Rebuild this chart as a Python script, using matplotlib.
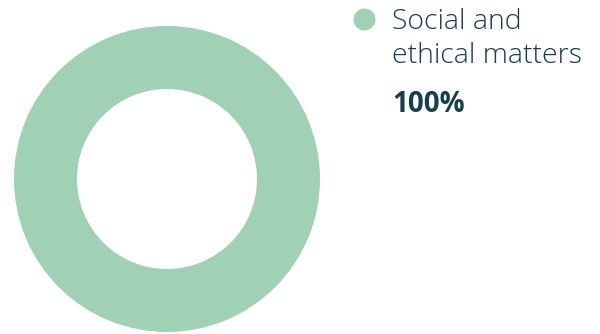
import matplotlib
matplotlib.use("Agg")
import matplotlib.pyplot as plt

# data
categories = ["Social and\nethical matters"]
values = [100]
colors = ["#a0d1b4"]
text_color = "#173f4c"

fig = plt.figure(figsize=(6, 3.34), dpi=100)
ax = fig.add_axes([0, 0, 1, 1])
ax.set_xlim(0, 600)
ax.set_ylim(334, 0)
ax.axis("off")

ax.pie(values, colors=colors, center=(167, 179), radius=153,
       startangle=90, counterclock=False,
       wedgeprops=dict(width=63, linewidth=0))
ax.set_xlim(0, 600)
ax.set_ylim(334, 0)

# legend-like labels on the right
for i, (cat, val) in enumerate(zip(categories, values)):
    ax.scatter([364], [19], s=250, color=colors[i], linewidths=0, zorder=3)
    for j, line in enumerate(cat.split("\n")):
        ax.text(392, 29 + 34 * j, line, fontsize=20.5, family="Open Sans",
                weight="light", color=text_color, va="baseline", ha="left")
    ax.text(392, 112, f"{val}%", fontsize=20, family="Open Sans", weight="bold",
            color=text_color, va="baseline", ha="left")

fig.savefig("out.png", dpi=100)
